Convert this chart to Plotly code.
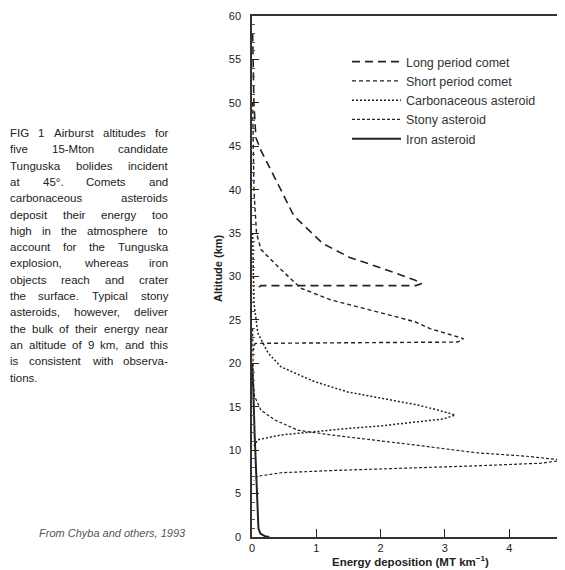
import plotly.graph_objects as go

# ---------------- data ----------------
series_names = ["Long period comet", "Short period comet", "Carbonaceous asteroid",
                "Stony asteroid", "Iron asteroid"]

long_x = [0.01, 0.03, 0.06, 0.14, 0.38, 0.65, 1.1, 1.52, 2.0, 2.53, 2.64, 2.55, 0.14, 0.04]
long_y = [58, 50, 46, 44.5, 41.0, 37.0, 33.8, 32.2, 31.0, 29.6, 29.2, 28.95, 28.95, 28.5]

short_x = [0.01, 0.03, 0.07, 0.14, 0.45, 0.76, 1.23, 2.01, 2.53, 2.77, 3.1, 3.29, 3.2, 0.05, 0.02]
short_y = [50, 40, 35.0, 33.1, 30.8, 28.65, 27.3, 25.8, 24.8, 24.0, 23.3, 22.85, 22.45, 22.3, 21.5]

carb_x = [0.01, 0.03, 0.09, 0.25, 0.45, 0.97, 1.49, 2.01, 2.58, 2.9, 3.16, 2.98, 2.58, 2.01,
          1.49, 0.97, 0.45, 0.09, 0.03]
carb_y = [35, 27, 23.5, 21.2, 19.6, 17.9, 16.7, 16.0, 15.2, 14.6, 14.05, 13.6, 13.3, 12.8,
          12.5, 12.1, 11.75, 11.2, 10.5]

stony_x = [0.01, 0.02, 0.04, 0.14, 0.35, 0.71, 1.23, 1.9, 2.53, 3.49, 4.27, 4.85, 4.5, 3.5,
           2.58, 2.01, 1.23, 0.45, 0.09, 0.03]
stony_y = [24, 18, 16.2, 14.6, 13.5, 12.3, 11.75, 11.2, 10.6, 9.7, 9.3, 8.85, 8.5, 8.2,
           8.0, 7.85, 7.65, 7.4, 7.0, 6.5]

iron_x = [0.0, 0.02, 0.04, 0.06, 0.08, 0.09, 0.1, 0.13, 0.2, 0.27]
iron_y = [20, 17, 12, 8, 5, 2, 1.0, 0.4, 0.1, 0.0]

x_ticks = [0, 1, 2, 3, 4]
y_ticks = [0, 5, 10, 15, 20, 25, 30, 35, 40, 45, 50, 55, 60]

x_title = "Energy deposition (MT km<sup>\u22121</sup>)"
y_title = "Altitude (km)"
source_text = "From Chyba and others, 1993"
caption_lines = [
    "FIG 1  Airburst altitudes for",
    "five 15-Mton candidate",
    "Tunguska bolides incident",
    "at 45\u00b0. Comets and",
    "carbonaceous asteroids",
    "deposit their energy too",
    "high in the atmosphere to",
    "account for the Tunguska",
    "explosion, whereas iron",
    "objects reach and crater",
    "the surface. Typical stony",
    "asteroids, however, deliver",
    "the bulk of their energy near",
    "an altitude of 9 km, and this",
    "is consistent with observa-",
    "tions.",
]

# ---------------- layout geometry ----------------
# screen positions (pixels in the 565x570 window); the page body adds an 8px offset
OFF = 8
W_FIG, H_FIG = 565, 570
S_PL, S_PR, S_PT, S_PB = 252, 565, 16, 537
PL, PR, PT, PB = S_PL - OFF, S_PR - OFF, S_PT - OFF, S_PB - OFF
X_MAX = (S_PR - S_PL) / 64.3


def px(xs):
    return (xs - S_PL) / (S_PR - S_PL)


def py(ys):
    return (S_PB - ys) / (S_PB - S_PT)


INK = "#222222"
FONT = "Liberation Sans, Arial, sans-serif"

fig = go.Figure()
styles = [
    dict(dash="8px,5px", width=1.6),
    dict(dash="4px,3px", width=1.4),
    dict(dash="2px,2px", width=1.5),
    dict(dash="3px,2px", width=1.2),
    dict(dash="solid", width=2.0),
]
for name, xs, ys, st in zip(series_names,
                            [long_x, short_x, carb_x, stony_x, iron_x],
                            [long_y, short_y, carb_y, stony_y, iron_y], styles):
    fig.add_trace(go.Scatter(x=xs, y=ys, mode="lines", name=name,
                             line=dict(color=INK, width=st["width"], dash=st["dash"])))

# ---------------- caption (justified) ----------------
CW = {' ': 278, 'a': 556, 'b': 556, 'c': 500, 'd': 556, 'e': 556, 'f': 278, 'g': 556, 'h': 556,
      'i': 222, 'j': 222, 'k': 500, 'l': 222, 'm': 833, 'n': 556, 'o': 556, 'p': 556, 'q': 556,
      'r': 333, 's': 500, 't': 278, 'u': 556, 'v': 500, 'w': 722, 'x': 500, 'y': 500, 'z': 500,
      'A': 667, 'B': 667, 'C': 722, 'D': 722, 'E': 667, 'F': 611, 'G': 778, 'H': 722, 'I': 278,
      'M': 833, 'T': 611, '.': 278, ',': 278, '-': 333, '\u00b0': 400}
CAP_SIZE = 11.5


def tw(s):
    return sum(CW.get(c, 556) for c in s) * CAP_SIZE / 1000


annotations = []
CAP_L, CAP_R, CAP_Y0, CAP_DY = 9, 167, 133, 16.3
for i, line in enumerate(caption_lines):
    yy = CAP_Y0 + i * CAP_DY
    words = line.split()
    if i == len(caption_lines) - 1 or len(words) == 1:
        annotations.append(dict(x=px(CAP_L), y=py(yy), xref="paper", yref="paper",
                                text=line, showarrow=False, xanchor="left", yanchor="middle",
                                borderpad=0,
                                font=dict(family=FONT, size=CAP_SIZE, color="#222")))
        continue
    total = sum(tw(w) for w in words)
    gap = (CAP_R - CAP_L - total) / (len(words) - 1)
    xx = CAP_L
    for w in words:
        annotations.append(dict(x=px(xx), y=py(yy), xref="paper", yref="paper",
                                text=w, showarrow=False, xanchor="left", yanchor="middle",
                                borderpad=0,
                                font=dict(family=FONT, size=CAP_SIZE, color="#222")))
        xx += tw(w) + gap

annotations.append(dict(x=px(112), y=py(533), xref="paper", yref="paper", text="<i>" + source_text + "</i>",
                        showarrow=False, xanchor="center", yanchor="middle",
                        font=dict(family=FONT, size=11, color="#555")))
annotations.append(dict(x=px(218), y=py(268), xref="paper", yref="paper", text="<b>" + y_title + "</b>",
                        showarrow=False, textangle=-90, xanchor="center", yanchor="middle",
                        font=dict(family=FONT, size=11, color=INK)))
annotations.append(dict(x=px(410), y=py(561), xref="paper", yref="paper", text="<b>" + x_title + "</b>",
                        showarrow=False, xanchor="center", yanchor="middle",
                        font=dict(family=FONT, size=11.5, color=INK)))

fig.update_layout(
    width=W_FIG, height=H_FIG,
    margin=dict(l=PL, r=W_FIG - PR, t=PT, b=H_FIG - PB, autoexpand=False),
    paper_bgcolor="white", plot_bgcolor="white",
    font=dict(family=FONT, color=INK),
    showlegend=True,
    legend=dict(x=px(347), y=py(47), xanchor="left", yanchor="top",
                bgcolor="rgba(0,0,0,0)", borderwidth=0,
                font=dict(family=FONT, size=12.5, color="#333"),
                itemwidth=49, tracegroupgap=0),
    annotations=annotations,
)
fig.update_xaxes(range=[0, X_MAX], tickvals=x_ticks, ticks="inside", ticklen=8, tickwidth=1.2,
                 tickcolor=INK, showline=True, linewidth=1.5, linecolor="#333", mirror=True,
                 showgrid=False, zeroline=False, tickfont=dict(family=FONT, size=11, color=INK))
fig.update_yaxes(range=[0, 60], tickvals=y_ticks, ticks="inside", ticklen=7, tickwidth=1.2,
                 tickcolor=INK, showline=True, linewidth=1.5, linecolor="#333", mirror="ticks",
                 showgrid=False, zeroline=False, ticklabelstandoff=7,
                 minor=dict(dtick=1, ticks="inside", ticklen=3, tickcolor="#555", tickwidth=1),
                 tickfont=dict(family=FONT, size=11, color=INK))

fig.write_html("out.html")
